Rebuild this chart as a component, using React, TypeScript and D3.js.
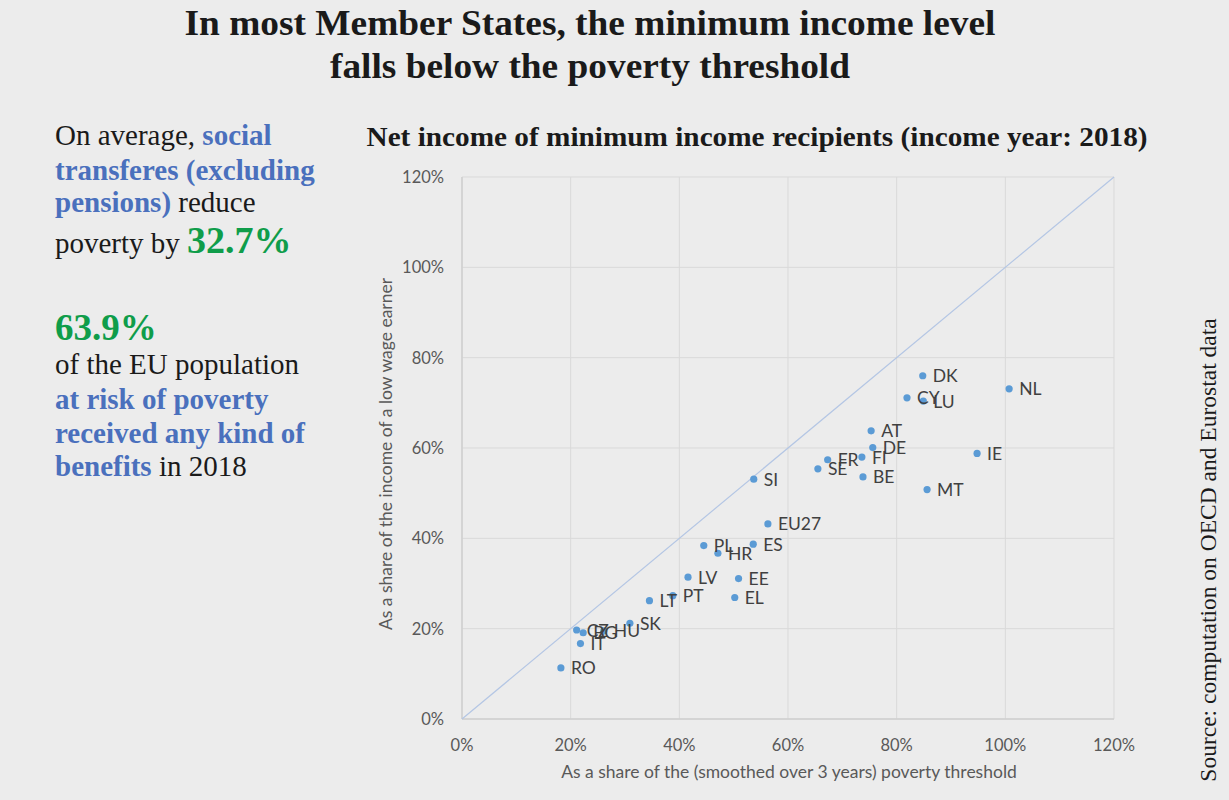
import React from "react";
import * as d3 from "d3";

const countries = ["DK","NL","CY","LU","AT","DE","IE","FI","FR","SE","BE","SI","MT","EU27","ES","PL","HR","LV","EE","PT","EL","LT","SK","HU","CZ","BG","IT","RO"];
const povertyShare = [84.8,100.7,81.9,84.9,75.3,75.6,94.8,73.6,67.3,65.5,73.8,53.7,85.6,56.3,53.6,44.5,47.1,41.6,50.9,38.8,50.2,34.5,30.9,26.1,21.1,22.3,21.8,18.2];
const wageShare = [76.0,73.1,71.1,70.4,63.8,60.1,58.8,58.0,57.4,55.4,53.6,53.1,50.8,43.2,38.7,38.4,36.7,31.4,31.1,27.3,26.9,26.2,21.2,19.5,19.7,19.1,16.7,11.3];
const tickValues = [0,20,40,60,80,100,120];

const W = 1229, H = 800;
const left = 462, right = 1114, top = 177, bottom = 719;

export default function App() {
  const x = d3.scaleLinear().domain([0,120]).range([left,right]);
  const y = d3.scaleLinear().domain([0,120]).range([bottom,top]);
  const fmt = (v:number)=>`${v}%`;
  const sans = "Lato, 'Open Sans', sans-serif";
  const serif = "'Liberation Serif', 'Times New Roman', serif";
  const blue = "#4a70bd";
  const green = "#0f9d4a";
  const line = d3.line<number>().x(d=>x(d)).y(d=>y(d));
  const pts = countries.map((c,i)=>({c, px: povertyShare[i], wy: wageShare[i]}));
  return (
    <svg width={W} height={H} style={{position:"absolute",left:0,top:0,background:"#ececec"}}>
      <rect x={0} y={0} width={W} height={H} fill="#ececec"/>
      {/* main title */}
      <text x={590} y={35} textAnchor="middle" fontFamily={serif} fontWeight="bold" fontSize={36} fill="#1a1a1a" textLength={811} lengthAdjust="spacingAndGlyphs">In most Member States, the minimum income level</text>
      <text x={590} y={78} textAnchor="middle" fontFamily={serif} fontWeight="bold" fontSize={36} fill="#1a1a1a" textLength={520} lengthAdjust="spacingAndGlyphs">falls below the poverty threshold</text>

      {/* left panel */}
      <g fontFamily={serif} fontSize={29} fill="#1a1a1a">
        <text x={55} y={145}>On average, <tspan fill={blue} fontWeight="bold">social</tspan></text>
        <text x={55} y={180} fill={blue} fontWeight="bold">transferes (excluding</text>
        <text x={55} y={212}><tspan fill={blue} fontWeight="bold">pensions)</tspan> reduce</text>
        <text x={55} y={253}>poverty by <tspan fill={green} fontWeight="bold" fontSize={38}>32.7%</tspan></text>
        <text x={55} y={340} fill={green} fontWeight="bold" fontSize={37}>63.9%</text>
        <text x={55} y={374}>of the EU population</text>
        <text x={55} y={409} fill={blue} fontWeight="bold">at risk of poverty</text>
        <text x={55} y={443} fill={blue} fontWeight="bold">received any kind of</text>
        <text x={55} y={476}><tspan fill={blue} fontWeight="bold">benefits</tspan> in 2018</text>
      </g>

      {/* chart title */}
      <text x={757} y={146} textAnchor="middle" fontFamily={serif} fontWeight="bold" fontSize={27} fill="#1a1a1a" textLength={781} lengthAdjust="spacingAndGlyphs">Net income of minimum income recipients (income year: 2018)</text>

      {/* grid */}
      <g stroke="#d9d9d9" strokeWidth={1}>
        {tickValues.map(v=>(<line key={"gx"+v} x1={x(v)} x2={x(v)} y1={top} y2={bottom}/>))}
        {tickValues.map(v=>(<line key={"gy"+v} x1={left} x2={right} y1={y(v)} y2={y(v)}/>))}
      </g>
      <line x1={left} x2={left} y1={top} y2={bottom} stroke="#cfcfcf" strokeWidth={1.5}/>
      <line x1={left} x2={right} y1={bottom} y2={bottom} stroke="#cfcfcf" strokeWidth={1.5}/>
      <path d={line([0,120]) || ""} stroke="#b4c6e4" strokeWidth={1.2} fill="none"/>

      {/* tick labels */}
      <g fontFamily={sans} fontSize={16.5} fill="#595959">
        {tickValues.map(v=>(<text key={"ty"+v} x={444} y={y(v)+6} textAnchor="end">{fmt(v)}</text>))}
        {tickValues.map(v=>(<text key={"tx"+v} x={x(v)} y={751} textAnchor="middle">{fmt(v)}</text>))}
      </g>
      <g fontFamily={sans} fontSize={17.5} fill="#595959">
        <text x={789} y={778} textAnchor="middle">As a share of the (smoothed over 3 years) poverty threshold</text>
        <text transform={`translate(392,${(top+bottom)/2+6}) rotate(-90)`} textAnchor="middle">As a share of the income of a low wage earner</text>
      </g>

      {/* points */}
      <g fill="#5b9bd5">
        {pts.map(p=>(<circle key={"c"+p.c} cx={x(p.px)} cy={y(p.wy)} r={3.6}/>))}
      </g>
      <g fontFamily={sans} fontSize={17.5} fill="#404040">
        {pts.map(p=>(<text key={"l"+p.c} x={x(p.px)+10} y={y(p.wy)+6.5}>{p.c}</text>))}
      </g>

      {/* source */}
      <text transform="translate(1216,550) rotate(-90)" textAnchor="middle" fontFamily={serif} fontSize={23.5} fill="#1a1a1a">Source: computation on OECD and Eurostat data</text>
    </svg>
  );
}
